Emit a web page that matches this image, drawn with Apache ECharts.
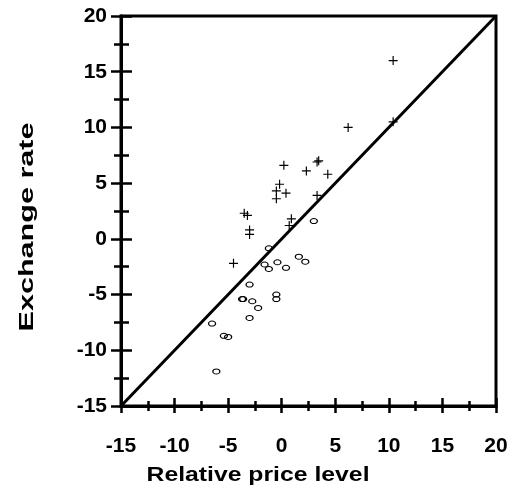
<!DOCTYPE html>
<html><head><meta charset="utf-8">
<script src="https://cdn.jsdelivr.net/npm/echarts@6/dist/echarts.min.js"></script>
<style>html,body{margin:0;padding:0;background:#fff}#c{width:511px;height:491px}</style>
</head><body><div id="c"></div>
<script>
// ---- data ----
const axisMin = -15, axisMax = 20, axisStep = 5;
const xAxisTitle = 'Relative price level';
const yAxisTitle = 'Exchange rate';
// "+" markers: [relative price level, exchange rate]
const plusPoints = [
  [10.4, 16.0], [10.4, 10.5], [6.2, 10.0], [3.3, 6.9], [3.45, 7.0], [2.3, 6.1], [4.3, 5.8],
  [0.2, 6.6], [-0.2, 4.9], [-0.5, 4.3], [0.4, 4.1], [-0.5, 3.6], [3.3, 3.9],
  [-3.5, 2.3], [-3.2, 2.1], [0.9, 1.8], [0.7, 1.2], [-3.0, 0.8], [-3.0, 0.4], [-4.5, -2.2]
];
// "o" markers
const circlePoints = [
  [3.0, 1.6], [-1.2, -0.85], [1.6, -1.6], [2.2, -2.05], [-1.6, -2.3], [-0.4, -2.1],
  [-1.2, -2.7], [0.4, -2.6], [-3.0, -4.1], [-3.7, -5.4], [-3.6, -5.4], [-2.75, -5.6],
  [-2.2, -6.2], [-0.5, -5.0], [-0.5, -5.4], [-3.0, -7.1], [-6.5, -7.6], [-5.4, -8.7],
  [-5.0, -8.8], [-6.1, -11.9]
];
// 45-degree reference line
const diagonal = [[-15, -15], [20, 20]];

// ---- chart ----
const FONT = "'Liberation Sans', Arial, sans-serif";
const labelStyle = { fontFamily: FONT, fontWeight: 'bold', fontSize: 21, color: '#000' };
function valAxis(extra) {
  return Object.assign({
    type: 'value', min: axisMin, max: axisMax, interval: axisStep,
    splitLine: { show: false },
    axisLine: { show: true, onZero: false, lineStyle: { color: '#000', width: 3 } },
  }, extra);
}
const chart = echarts.init(document.getElementById('c'), null, { renderer: 'canvas' });
chart.setOption({
  animation: false,
  backgroundColor: '#fff',
  grid: { left: 121, right: 15, top: 16, bottom: 85, show: true, borderColor: '#000', borderWidth: 3, backgroundColor: 'transparent' },
  xAxis: [
    valAxis({
      position: 'bottom',
      axisTick: { show: true, inside: true, length: 8, lineStyle: { color: '#000', width: 2.5 } },
      minorTick: { show: true, splitNumber: 2, length: 5, lineStyle: { color: '#000', width: 2.5 } },
      axisLabel: Object.assign({ margin: 30 }, labelStyle)
    }),
    valAxis({
      position: 'bottom',
      axisTick: { show: true, inside: false, length: 7, lineStyle: { color: '#000', width: 2.5 } },
      minorTick: { show: true, splitNumber: 2, length: 5, lineStyle: { color: '#000', width: 2.5 } },
      axisLabel: { show: false }
    })
  ],
  yAxis: [
    valAxis({
      position: 'left',
      axisTick: { show: true, inside: true, length: 11, lineStyle: { color: '#000', width: 2.5 } },
      minorTick: { show: true, splitNumber: 2, length: 8, lineStyle: { color: '#000', width: 2.5 } },
      axisLabel: Object.assign({ margin: 14 }, labelStyle)
    }),
    valAxis({
      position: 'left',
      axisTick: { show: true, inside: false, length: 10, lineStyle: { color: '#000', width: 2.5 } },
      minorTick: { show: true, splitNumber: 2, length: 7, lineStyle: { color: '#000', width: 2.5 } },
      axisLabel: { show: false }
    })
  ],
  graphic: [
    {
      type: 'text', x: 258, y: 476, scaleX: 1.27, scaleY: 1,
      style: { text: xAxisTitle, font: "bold 19.5px 'Liberation Sans', Arial, sans-serif", fill: '#000', align: 'center', verticalAlign: 'middle' }
    },
    {
      type: 'text', x: 27, y: 227, rotation: Math.PI / 2, scaleX: 1.49, scaleY: 1,
      style: { text: yAxisTitle, font: "bold 20.5px 'Liberation Sans', Arial, sans-serif", fill: '#000', align: 'center', verticalAlign: 'middle' }
    }
  ],
  series: [
    {
      type: 'line', data: diagonal, xAxisIndex: 0, yAxisIndex: 0,
      symbol: 'none', silent: true, lineStyle: { color: '#000', width: 3 }, z: 1
    },
    {
      type: 'scatter', data: plusPoints, xAxisIndex: 0, yAxisIndex: 0,
      symbol: 'path://M0,4.35H4.35V0H5.65V4.35H10V5.65H5.65V10H4.35V5.65H0Z',
      symbolSize: 9, itemStyle: { color: '#000', opacity: 1 }, z: 3
    },
    {
      type: 'scatter', data: circlePoints, xAxisIndex: 0, yAxisIndex: 0,
      symbol: 'circle', symbolSize: [7, 5],
      itemStyle: { color: 'rgba(255,255,255,0)', borderColor: '#000', borderWidth: 1.1, opacity: 1 }, z: 3
    }
  ]
});
</script></body></html>
